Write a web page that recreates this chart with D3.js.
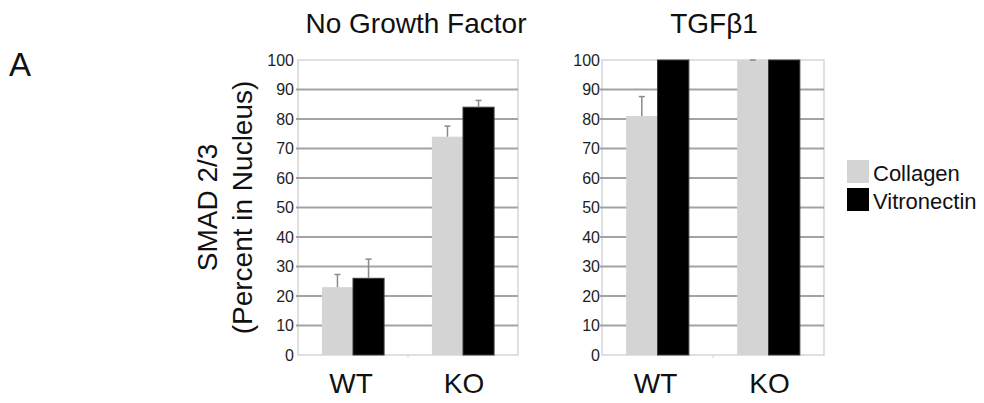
<!DOCTYPE html>
<html>
<head>
<meta charset="utf-8">
<script src="https://cdn.jsdelivr.net/npm/d3@7"></script>
<style>
  html, body { margin: 0; padding: 0; background: #fff; }
  svg { display: block; font-family: "Liberation Sans", Arial, sans-serif; }
</style>
</head>
<body>
<svg id="chart" width="984" height="403"></svg>
<script>
// Genotypes on the x axis
const genotypes = ["WT", "KO"];
// Substrates (series)
const substrates = ["Collagen", "Vitronectin"];
// Panel titles
const panelTitles = ["No Growth Factor", "TGFβ1"];
// Percent of SMAD 2/3 in nucleus, per panel, per genotype
const collagenNoGF = [23, 74];
const vitronectinNoGF = [26, 84];
const collagenTGF = [81, 100];
const vitronectinTGF = [100, 100];
// Upper error (SEM) per bar
const collagenNoGFErr = [4.3, 3.6];
const vitronectinNoGFErr = [6.5, 2.3];
const collagenTGFErr = [6.6, 0];
const vitronectinTGFErr = [0, 0];
// Y axis ticks
const yTicks = [0, 10, 20, 30, 40, 50, 60, 70, 80, 90, 100];

const colors = { Collagen: "#d4d4d4", Vitronectin: "#000000" };

const panels = [
  { title: panelTitles[0], left: 298, right: 518, labelGap: 4,
    values: { Collagen: collagenNoGF, Vitronectin: vitronectinNoGF },
    errors: { Collagen: collagenNoGFErr, Vitronectin: vitronectinNoGFErr } },
  { title: panelTitles[1], left: 602, right: 824, labelGap: 2,
    values: { Collagen: collagenTGF, Vitronectin: vitronectinTGF },
    errors: { Collagen: collagenTGFErr, Vitronectin: vitronectinTGFErr } }
];

const svg = d3.select("#chart");
const plotTop = 60, plotBottom = 355;
const y = d3.scaleLinear().domain([0, 100]).range([plotBottom, plotTop]);

panels.forEach(p => {
  const g = svg.append("g");
  const x0 = d3.scaleBand().domain(genotypes).range([p.left, p.right]).padding(0);
  const x1 = d3.scaleBand().domain(substrates).range([0, x0.bandwidth()])
    .paddingInner(0).paddingOuter(0.77);

  // plot frame
  g.append("rect")
    .attr("x", p.left).attr("y", plotTop)
    .attr("width", p.right - p.left).attr("height", plotBottom - plotTop)
    .attr("fill", "#fff").attr("stroke", "#d6d6d6").attr("stroke-width", 1.5);

  // horizontal gridlines
  g.selectAll("line.grid").data(yTicks.filter(t => t > 0 && t < 100)).join("line")
    .attr("class", "grid")
    .attr("x1", p.left - 2).attr("x2", p.right)
    .attr("y1", d => y(d)).attr("y2", d => y(d))
    .attr("stroke", "#a3a3a3").attr("stroke-width", 2);

  // small separator tick between categories
  g.append("line")
    .attr("x1", x0("KO")).attr("x2", x0("KO"))
    .attr("y1", plotBottom).attr("y2", plotBottom + 3)
    .attr("stroke", "#d6d6d6").attr("stroke-width", 1);

  // y axis labels
  const yAxis = d3.axisLeft(y).tickValues(yTicks).tickSize(0).tickPadding(p.labelGap);
  const ax = g.append("g").attr("transform", `translate(${p.left},0)`).call(yAxis);
  ax.select(".domain").remove();
  ax.selectAll("text")
    .attr("font-size", 16).attr("fill", "#1e1e1e")
    .attr("font-family", "'Liberation Sans', Arial, sans-serif");

  // bars
  genotypes.forEach((gt, i) => {
    substrates.forEach(s => {
      const v = p.values[s][i];
      const bx = x0(gt) + x1(s);
      g.append("rect")
        .attr("x", bx).attr("y", y(v))
        .attr("width", x1.bandwidth()).attr("height", y(0) - y(v))
        .attr("fill", colors[s])
        .attr("stroke", s === "Vitronectin" ? "#3a3a3a" : "none")
        .attr("stroke-width", 1);
    });
  });

  // error bars (upper only)
  genotypes.forEach((gt, i) => {
    substrates.forEach(s => {
      const v = p.values[s][i];
      const e = p.errors[s][i];
      const cx = x0(gt) + x1(s) + x1.bandwidth() / 2;
      if (e > 0) {
        g.append("line")
          .attr("x1", cx).attr("x2", cx)
          .attr("y1", y(v)).attr("y2", y(v + e))
          .attr("stroke", "#8a8a8a").attr("stroke-width", 1.5);
      }
      if (e > 0 || s === "Collagen") {
        g.append("line")
          .attr("x1", cx - 3).attr("x2", cx + 3)
          .attr("y1", y(v + e)).attr("y2", y(v + e))
          .attr("stroke", "#8a8a8a").attr("stroke-width", 1.5);
      }
    });
  });

  // x labels
  g.selectAll("text.xl").data(genotypes).join("text")
    .attr("class", "xl")
    .attr("x", d => x0(d) + x0.bandwidth() / 2 + (d === "KO" ? 1 : -2))
    .attr("y", 393)
    .attr("text-anchor", "middle")
    .attr("font-size", 28).attr("fill", "#111")
    .text(d => d);

  // panel title
  g.append("text")
    .attr("x", (p.left + p.right) / 2 + (p.left < 500 ? 8 : 1))
    .attr("y", 33)
    .attr("text-anchor", "middle")
    .attr("font-size", 28).attr("fill", "#111")
    .text(p.title);
});

// y axis title
const yMid = (plotTop + plotBottom) / 2;
svg.append("text")
  .attr("transform", `translate(217,${yMid}) rotate(-90)`)
  .attr("text-anchor", "middle")
  .attr("font-size", 28).attr("fill", "#111")
  .text("SMAD 2/3");
svg.append("text")
  .attr("transform", `translate(252,${yMid}) rotate(-90)`)
  .attr("text-anchor", "middle")
  .attr("font-size", 28).attr("fill", "#111")
  .text("(Percent in Nucleus)");

// panel letter
svg.append("text")
  .attr("x", 9).attr("y", 76)
  .attr("font-size", 33).attr("fill", "#111")
  .text("A");

// legend
const legend = svg.append("g").attr("transform", "translate(847,160)");
substrates.forEach((s, i) => {
  legend.append("rect")
    .attr("x", 0).attr("y", i * 28)
    .attr("width", 22).attr("height", 23)
    .attr("fill", colors[s]);
  legend.append("text")
    .attr("x", 26).attr("y", i * 28 + 21)
    .attr("font-size", 22).attr("fill", "#111")
    .text(s);
});
</script>
</body>
</html>
